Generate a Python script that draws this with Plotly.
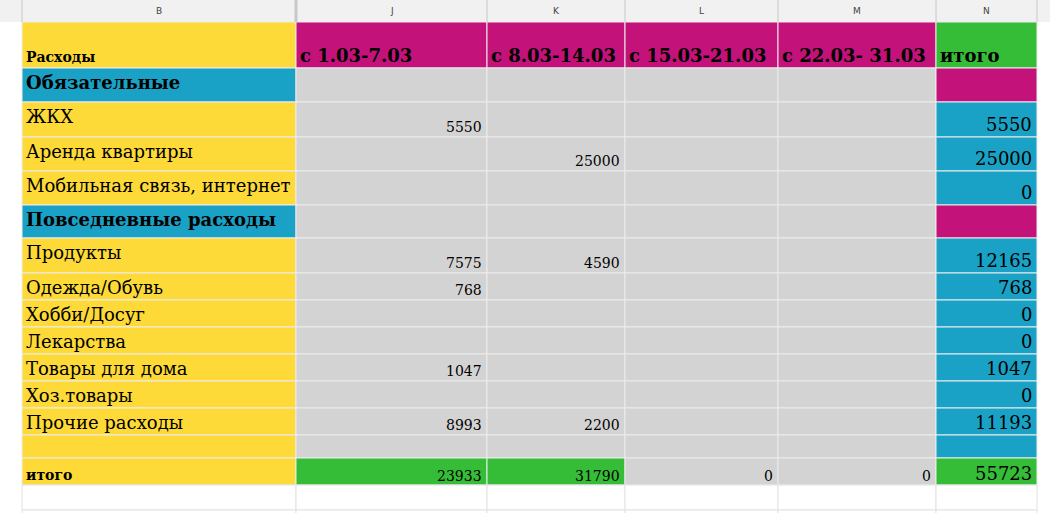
import plotly.graph_objects as go

# data
col_letters = ["", "B", "J", "K", "L", "M", "N"]
weeks = ["с 1.03-7.03", "с 8.03-14.03", "с 15.03-21.03", "с 22.03- 31.03"]
categories = ["Обязательные", "ЖКХ", "Аренда квартиры", "Мобильная связь, интернет",
              "Повседневные расходы", "Продукты", "Одежда/Обувь", "Хобби/Досуг",
              "Лекарства", "Товары для дома", "Хоз.товары", "Прочие расходы", ""]
kinds = ["section", "item", "item", "item", "section", "item", "item", "item",
         "item", "item", "item", "item", "blank"]
week1 = [None, 5550, None, None, None, 7575, 768, None, None, 1047, None, 8993, None]
week2 = [None, None, 25000, None, None, 4590, None, None, None, None, None, 2200, None]
week3 = [None] * 13
week4 = [None] * 13
totals = [None, 5550, 25000, 0, None, 12165, 768, 0, 0, 1047, 0, 11193, None]
week_totals = [23933, 31790, 0, 0]
grand_total = 55723

# layout (pixels)
col_x = [0, 22, 296, 487, 625, 778, 936, 1037]
row_h = [46, 34, 35, 34, 34, 33, 35, 27, 27, 27, 27, 27, 27, 23]
top = 22
YEL, MAG, BLU, GRN, GRY = "#FDDA37", "#C4127B", "#1AA2C6", "#36BD37", "#D3D3D3"
SERIF = "DejaVu Serif"

fig = go.Figure()
shapes, ann = [], []


def cell(c, y0, y1, color, line="#ececec"):
    shapes.append(dict(type="rect", x0=col_x[c], x1=col_x[c + 1], y0=y0, y1=y1,
                       fillcolor=color, line=dict(color=line, width=1), layer="below"))


def text(s, c, y, size, bold=False, align="left", yanchor="top"):
    x = col_x[c] + 2 if align == "left" else col_x[c + 1] - 3
    ann.append(dict(x=x, y=y, text=f"<b>{s}</b>" if bold else s, showarrow=False,
                    xanchor=align, yanchor=yanchor,
                    font=dict(family=SERIF, size=size, color="black")))


# column header bar
shapes.append(dict(type="rect", x0=0, x1=1050, y0=0, y1=top, fillcolor="#F0F1F0",
                   line=dict(width=0), layer="below"))
for i, letter in enumerate(col_letters):
    shapes.append(dict(type="line", x0=col_x[i + 1], x1=col_x[i + 1], y0=0, y1=top,
                       line=dict(color="#c8c8c8", width=3 if letter == "B" else 1)))
    if letter:
        ann.append(dict(x=(col_x[i] + col_x[i + 1]) / 2, y=top / 2, text=letter, showarrow=False,
                        font=dict(family="DejaVu Sans", size=9, color="#444")))

# header row
y0 = top
y1 = y0 + row_h[0]
cell(1, y0, y1, YEL)
text("Расходы", 1, y1 - 1, 14, True, yanchor="bottom")
for j, w in enumerate(weeks):
    cell(2 + j, y0, y1, MAG)
    text(w, 2 + j, y1, 18, True, yanchor="bottom")
cell(6, y0, y1, GRN)
text("итого", 6, y1, 18, True, yanchor="bottom")
y0 = y1

week_cols = [week1, week2, week3, week4]
for i, cat in enumerate(categories):
    y1 = y0 + row_h[i + 1]
    k = kinds[i]
    cell(1, y0, y1, BLU if k == "section" else YEL)
    for j in range(4):
        cell(2 + j, y0, y1, GRY)
        v = week_cols[j][i]
        if v is not None:
            text(str(v), 2 + j, y1, 14, align="right", yanchor="bottom")
    cell(6, y0, y1, MAG if k == "section" else BLU)
    if totals[i] is not None:
        text(str(totals[i]), 6, y1, 18, align="right", yanchor="bottom")
    if cat:
        text(cat, 1, y0 + 2, 18, k == "section")
    y0 = y1

# totals row
y1 = y0 + 27
cell(1, y0, y1, YEL)
text("итого", 1, y1, 14, True, yanchor="bottom")
for j, v in enumerate(week_totals):
    cell(2 + j, y0, y1, GRN if v else GRY)
    text(str(v), 2 + j, y1 + 1, 14, align="right", yanchor="bottom")
cell(6, y0, y1, GRN)
text(str(grand_total), 6, y1 + 1, 18, align="right", yanchor="bottom")
y0 = y1

# empty rows below
while y0 < 513:
    for c in range(1, 7):
        cell(c, y0, y0 + 25, "white", line="#e2e2e2")
    y0 += 25

fig.update_layout(
    width=1050, height=513, margin=dict(l=0, r=0, t=0, b=0),
    plot_bgcolor="white", paper_bgcolor="white", shapes=shapes, annotations=ann,
    xaxis=dict(range=[0, 1050], visible=False, fixedrange=True),
    yaxis=dict(range=[513, 0], visible=False, fixedrange=True),
    showlegend=False,
)
fig.write_html("out.html", config={"displayModeBar": False},
               post_script="document.body.style.margin='0';document.body.style.overflow='hidden';")
